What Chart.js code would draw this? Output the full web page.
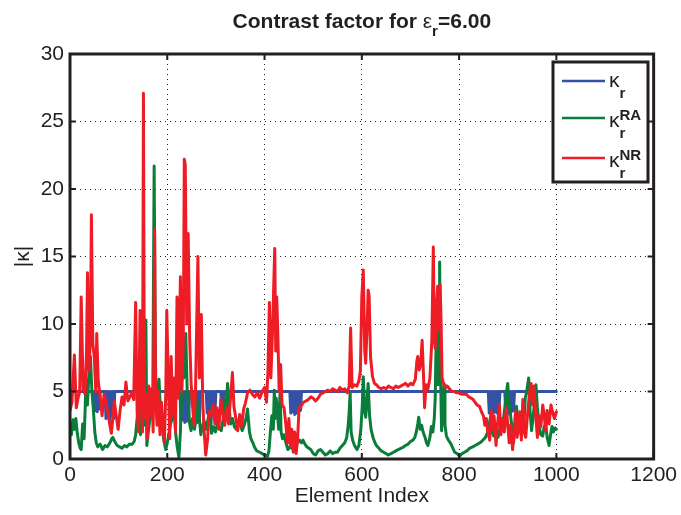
<!DOCTYPE html>
<html>
<head>
<meta charset="utf-8">
<script src="https://cdn.jsdelivr.net/npm/chart.js@4.4.1/dist/chart.umd.min.js"></script>
<style>
  html, body { margin: 0; padding: 0; background: #fff; }
</style>
</head>
<body>
<canvas id="chartDiv" width="681" height="515"></canvas>
<script>
const xTicks = [0, 200, 400, 600, 800, 1000, 1200]
const yTicks = [0, 5, 10, 15, 20, 25, 30]

// [element index, |kappa|]
const kappaR = [
  [0, 5], [50, 5], [52, 3.6], [54, 5], [56, 3.5], [58, 5], [60, 3.7], [62, 5],
  [72, 5], [74, 3.0], [76, 5], [78, 3.1], [80, 5], [82, 2.9], [84, 5], [86, 3.2], [88, 5], [90, 3.0], [92, 5],
  [226, 5], [228, 2.8], [230, 5], [232, 2.9], [234, 5], [236, 2.7], [238, 5], [240, 2.8], [242, 5], [244, 3.0], [246, 5],
  [256, 5], [258, 2.8], [260, 5], [262, 2.7], [264, 5], [266, 2.9], [268, 5],
  [280, 5], [282, 3.4], [284, 5], [286, 3.0], [288, 5], [290, 2.6], [292, 5], [294, 3.2], [296, 5], [298, 3.5], [300, 5],
  [310, 5], [312, 3.8], [314, 5], [316, 3.9], [318, 5],
  [452, 5], [454, 3.4], [456, 5], [458, 3.5], [460, 5], [462, 3.3], [464, 5], [466, 3.4], [468, 5], [470, 3.5], [472, 5], [474, 3.6], [476, 5],
  [860, 5], [862, 3.4], [864, 5], [866, 3.3], [868, 5], [870, 3.4], [872, 5], [874, 3.5], [876, 5], [878, 3.4], [880, 5], [882, 3.6], [884, 5],
  [894, 5], [896, 3.3], [898, 5], [900, 3.4], [902, 5], [904, 3.3], [906, 5], [908, 3.5], [910, 5], [912, 3.6], [914, 5],
  [1000, 5]
]

const kappaRA = [
  [0, 2.6], [3, 1.8], [6, 2.9], [9, 2.2], [12, 3.0], [15, 1.9], [18, 1.2], [21, 0.8], [23, 0.7], [26, 2.6],
  [29, 1.5], [31, 3.5], [33, 5.9], [36, 4.0], [39, 6.5], [42, 7.6], [45, 5.0], [48, 3.7], [51, 2.0], [54, 1.2],
  [57, 0.9], [62, 1.1], [67, 0.7], [72, 1.0], [77, 0.9], [82, 1.2], [86, 1.5], [88, 1.6], [92, 1.3], [97, 1.0],
  [102, 0.9], [107, 0.8], [112, 1.0], [117, 0.9], [122, 1.1], [128, 1.1], [132, 1.3], [135, 1.8], [138, 3.0], [142, 4.9],
  [145, 1.8], [148, 3.5], [150, 4.9], [153, 2.5], [156, 10.3], [158, 1.0], [161, 2.0], [164, 2.9], [167, 4.0], [170, 3.0],
  [173, 21.7], [175, 10.0], [177, 3.7], [180, 4.2], [183, 5.9], [186, 3.5], [189, 2.6], [192, 1.6], [195, 1.0], [197, 0.7],
  [200, 1.2], [203, 1.8], [206, 2.5], [210, 3.0], [214, 3.7], [217, 2.0], [220, 1.0], [224, 0.1], [227, 2.0], [229, 4.5],
  [231, 8.6], [234, 6.0], [236, 7.5], [238, 9.3], [241, 5.0], [244, 3.5], [246, 2.6], [249, 2.1], [252, 3.0], [256, 2.2],
  [259, 2.9], [263, 4.4], [266, 3.0], [269, 1.8], [272, 2.4], [276, 2.8], [280, 2.2], [284, 3.0], [287, 3.6], [291, 1.9],
  [295, 2.4], [299, 2.0], [303, 2.6], [307, 2.3], [311, 2.1], [315, 3.0], [318, 4.4], [321, 3.5], [324, 5.6], [327, 4.0],
  [330, 2.6], [334, 3.0], [338, 2.4], [342, 2.2], [346, 2.8], [350, 2.6], [354, 2.1], [358, 2.5], [362, 3.0], [365, 3.7],
  [369, 2.0], [372, 1.5], [376, 1.2], [379, 0.9], [384, 0.6], [390, 0.5], [395, 0.4], [400, 0.3], [406, 0.2], [409, 0.6],
  [412, 2.0], [415, 3.2], [418, 2.2], [420, 5.1], [422, 3.0], [424, 4.5], [426, 3.7], [429, 2.2], [432, 5.0], [434, 2.0],
  [437, 1.5], [440, 1.8], [444, 1.2], [448, 0.7], [452, 0.9], [456, 0.8], [460, 1.0], [464, 1.3], [468, 1.2], [472, 1.4],
  [476, 1.2], [479, 1.4], [483, 1.1], [487, 0.9], [491, 0.8], [495, 0.7], [500, 0.4], [505, 0.3], [510, 0.6], [515, 0.7],
  [520, 0.5], [525, 0.3], [530, 0.4], [535, 0.6], [540, 0.4], [545, 0.5], [550, 0.5], [555, 0.8], [560, 1.0], [565, 1.2],
  [569, 1.6], [572, 2.5], [574, 3.5], [576, 4.9], [578, 2.0], [581, 1.4], [585, 1.0], [590, 0.7], [594, 1.0], [598, 2.2],
  [601, 4.0], [603, 6.1], [606, 3.5], [608, 3.1], [611, 4.5], [613, 5.6], [616, 3.2], [619, 2.2], [623, 1.6], [627, 1.2],
  [630, 1.0], [635, 0.8], [640, 0.6], [645, 0.5], [650, 0.4], [654, 0.3], [660, 0.4], [665, 0.5], [670, 0.6], [675, 0.7],
  [681, 0.8], [686, 0.9], [690, 1.0], [695, 1.1], [700, 1.3], [705, 1.4], [709, 1.6], [712, 2.0], [715, 2.6], [717, 3.1],
  [720, 2.2], [723, 2.5], [726, 2.0], [730, 1.6], [733, 1.2], [736, 1.0], [740, 1.6], [743, 2.4], [746, 2.0], [749, 3.0],
  [751, 4.6], [753, 9.6], [755, 6.0], [757, 5.5], [759, 12.0], [760, 14.6], [762, 6.0], [764, 2.1], [767, 4.0], [769, 5.5],
  [771, 2.5], [774, 1.7], [778, 1.4], [782, 1.2], [786, 0.9], [791, 0.5], [796, 0.4], [801, 0.2], [806, 0.4], [811, 0.5],
  [816, 0.6], [822, 0.8], [828, 0.9], [833, 1.0], [838, 1.1], [843, 1.2], [849, 1.4], [854, 1.6], [859, 2.0], [862, 2.6],
  [865, 3.2], [868, 2.0], [871, 1.7], [874, 2.4], [877, 2.1], [880, 1.6], [884, 2.3], [887, 2.6], [890, 2.6], [893, 3.5],
  [896, 4.4], [898, 5.1], [900, 5.6], [903, 4.0], [906, 3.2], [909, 2.2], [912, 1.2], [915, 2.6], [918, 3.9], [921, 2.8],
  [924, 2.1], [927, 2.9], [930, 3.2], [933, 2.4], [936, 4.5], [939, 5.0], [943, 6.0], [946, 3.5], [949, 2.1], [952, 3.0],
  [955, 4.2], [958, 5.5], [961, 3.8], [964, 2.6], [968, 1.8], [972, 1.7], [975, 2.4], [978, 2.6], [981, 1.6], [985, 1.0],
  [988, 1.8], [991, 2.4], [994, 2.0], [997, 2.3], [1000, 2.2]
]

const kappaNR = [
  [0, 3.6], [4, 4.2], [9, 7.7], [13, 3.8], [17, 4.6], [20, 5.0], [23, 12.0], [27, 5.2], [31, 4.8], [34, 8.0],
  [36, 13.8], [39, 6.5], [42, 9.0], [44, 18.1], [47, 8.5], [50, 7.5], [53, 5.0], [55, 9.3], [58, 5.8], [62, 4.6],
  [66, 3.2], [70, 4.8], [74, 4.2], [78, 3.4], [82, 2.5], [85, 1.9], [88, 3.0], [91, 4.3], [95, 3.2], [99, 2.2],
  [103, 3.6], [107, 4.6], [111, 4.0], [115, 5.7], [119, 4.3], [123, 4.6], [127, 4.9], [131, 4.4], [135, 11.6], [138, 3.5],
  [141, 2.0], [144, 11.0], [147, 5.0], [149, 2.0], [151, 27.1], [153, 3.0], [156, 4.8], [159, 1.5], [162, 5.4], [165, 3.2],
  [168, 5.2], [171, 2.0], [174, 17.0], [176, 4.5], [179, 2.5], [182, 5.0], [185, 1.8], [188, 4.2], [191, 2.5], [194, 1.2],
  [197, 5.0], [199, 11.0], [202, 6.0], [205, 1.5], [208, 7.6], [211, 3.2], [214, 6.0], [217, 2.0], [220, 12.0], [223, 4.5],
  [227, 13.5], [230, 5.0], [233, 9.0], [235, 22.2], [237, 21.8], [240, 10.0], [243, 16.7], [246, 9.0], [249, 5.6], [252, 3.9],
  [255, 2.5], [258, 5.0], [263, 15.0], [266, 6.0], [270, 10.7], [273, 4.1], [276, 2.0], [279, 0.3], [283, 1.5], [286, 3.5],
  [290, 3.2], [294, 4.0], [298, 2.6], [302, 3.8], [306, 2.2], [310, 4.4], [314, 3.4], [318, 2.5], [322, 3.8], [326, 2.6],
  [330, 4.5], [334, 6.4], [337, 3.9], [341, 3.0], [345, 2.1], [349, 3.3], [353, 2.4], [357, 3.7], [361, 4.2], [365, 4.9],
  [370, 5.1], [375, 4.8], [380, 4.6], [385, 4.9], [390, 4.5], [395, 5.0], [400, 5.3], [404, 4.2], [407, 6.5], [410, 11.6],
  [413, 6.0], [416, 9.0], [419, 13.0], [421, 15.6], [423, 8.0], [425, 12.0], [427, 9.7], [430, 5.0], [433, 7.0], [436, 4.0],
  [440, 3.8], [444, 2.5], [447, 1.2], [450, 3.0], [453, 1.0], [456, 2.2], [459, 0.5], [462, 2.0], [465, 0.4], [468, 1.5],
  [471, 3.8], [475, 3.9], [480, 4.2], [485, 4.3], [490, 4.4], [495, 4.6], [500, 4.5], [505, 4.3], [510, 4.5], [515, 4.8],
  [520, 4.9], [525, 5.0], [530, 5.1], [535, 5.0], [540, 5.2], [545, 5.1], [550, 5.0], [555, 5.3], [560, 5.1], [565, 5.2],
  [570, 4.9], [574, 5.4], [577, 9.7], [580, 5.3], [585, 5.5], [590, 5.4], [594, 5.8], [597, 6.5], [600, 12.0], [603, 14.0],
  [606, 8.0], [608, 7.1], [611, 10.0], [613, 12.5], [615, 12.1], [618, 7.5], [622, 6.1], [626, 5.6], [630, 5.5], [635, 5.3],
  [640, 5.2], [645, 5.3], [650, 5.2], [655, 5.4], [660, 5.3], [665, 5.2], [670, 5.4], [675, 5.3], [680, 5.4], [685, 5.5],
  [690, 5.6], [695, 5.4], [700, 5.6], [705, 5.5], [710, 5.9], [713, 7.2], [715, 7.6], [718, 6.6], [721, 7.0], [724, 8.8],
  [727, 6.0], [729, 3.8], [732, 5.5], [736, 5.2], [740, 6.0], [744, 8.8], [747, 15.7], [749, 9.0], [751, 8.2], [753, 11.0],
  [756, 12.8], [758, 9.5], [761, 12.9], [763, 10.1], [765, 6.0], [768, 5.6], [772, 5.3], [776, 5.4], [780, 5.2], [785, 5.0],
  [790, 5.0], [795, 4.9], [800, 4.9], [805, 4.8], [810, 4.8], [815, 4.8], [820, 4.6], [825, 4.5], [829, 4.4], [833, 4.2],
  [837, 4.0], [842, 3.9], [846, 3.5], [850, 3.2], [853, 2.5], [856, 3.0], [859, 2.0], [863, 1.4], [866, 3.6], [869, 2.2],
  [872, 3.2], [876, 1.0], [879, 2.6], [883, 4.0], [886, 1.8], [889, 3.0], [893, 2.0], [897, 3.8], [900, 2.6], [903, 1.2],
  [906, 2.5], [910, 0.7], [913, 2.0], [916, 3.5], [919, 1.6], [922, 2.1], [925, 3.5], [928, 1.4], [931, 4.4], [934, 2.0],
  [937, 1.6], [940, 3.0], [944, 4.6], [948, 5.6], [951, 4.0], [954, 5.4], [958, 3.0], [961, 1.6], [964, 3.2], [968, 2.4],
  [972, 4.0], [975, 3.2], [978, 2.1], [981, 3.6], [985, 2.6], [989, 4.0], [992, 3.5], [996, 3.0], [1000, 3.5]
]

const colors = ['#3451a3', '#0b7d3b', '#ee1d25']
const FONT = '"Liberation Sans", Arial, Helvetica, sans-serif'
const INK = '#231f20'

const toPoints = pairs => pairs.map(([x, y]) => ({ x, y }))

// draws a run of text pieces (with sub/superscripts) starting at x
function richText(ctx, parts, x, y) {
  parts.forEach(p => {
    ctx.font = p.font
    ctx.fillText(p.text, x, y + (p.dy || 0))
    if (!p.overlap) x += ctx.measureText(p.text).width
  })
  return x
}

function richWidth(ctx, parts) {
  let w = 0
  parts.forEach(p => {
    ctx.font = p.font
    if (!p.overlap) w += ctx.measureText(p.text).width
  })
  return w
}

const matlabAxes = {
  id: 'matlabAxes',
  afterDatasetsDraw(chart) {
    const { ctx, chartArea: a, scales } = chart
    ctx.save()

    // inward ticks on all four sides
    ctx.strokeStyle = INK
    ctx.lineWidth = 2
    ctx.beginPath()
    xTicks.forEach(v => {
      const x = scales.x.getPixelForValue(v)
      ctx.moveTo(x, a.bottom); ctx.lineTo(x, a.bottom - 6)
      ctx.moveTo(x, a.top); ctx.lineTo(x, a.top + 6)
    })
    yTicks.forEach(v => {
      const y = scales.y.getPixelForValue(v)
      ctx.moveTo(a.left, y); ctx.lineTo(a.left + 6, y)
      ctx.moveTo(a.right, y); ctx.lineTo(a.right - 6, y)
    })
    ctx.stroke()

    // box round the axes
    ctx.lineWidth = 3
    ctx.strokeRect(a.left, a.top, a.right - a.left, a.bottom - a.top)

    // legend
    const lx = 553, ly = 62, lw = 95, lh = 120
    ctx.fillStyle = '#fff'
    ctx.fillRect(lx, ly, lw, lh)
    ctx.lineWidth = 3
    ctx.strokeRect(lx, ly, lw, lh)
    const rows = [81, 118, 158]
    const sups = ['', 'RA', 'NR']
    rows.forEach((ry, i) => {
      ctx.strokeStyle = colors[i]
      ctx.lineWidth = 2.5
      ctx.beginPath()
      ctx.moveTo(562, ry)
      ctx.lineTo(605, ry)
      ctx.stroke()
      ctx.fillStyle = INK
      ctx.textAlign = 'left'
      ctx.textBaseline = 'alphabetic'
      const parts = [
        { text: 'κ', font: '21px ' + FONT },
        { text: 'r', font: 'bold 15px ' + FONT, dy: 11, overlap: true }
      ]
      if (sups[i]) parts.push({ text: sups[i], font: 'bold 15px ' + FONT, dy: -7 })
      richText(ctx, parts, 609, ry + (i === 0 ? 6 : 9))
    })

    ctx.restore()
  },
  afterDraw(chart) {
    const { ctx, chartArea: a } = chart
    const cx = (a.left + a.right) / 2
    ctx.save()
    ctx.fillStyle = INK
    ctx.textBaseline = 'alphabetic'
    ctx.textAlign = 'left'

    // title with subscript
    const title = [
      { text: 'Contrast factor for ', font: 'bold 21px ' + FONT },
      { text: 'ε', font: '21px ' + FONT },
      { text: 'r', font: 'bold 15px ' + FONT, dy: 8 },
      { text: '=6.00', font: 'bold 21px ' + FONT }
    ]
    richText(ctx, title, cx - richWidth(ctx, title) / 2, 28)

    // axis labels
    ctx.font = '21px ' + FONT
    ctx.textAlign = 'center'
    ctx.textBaseline = 'middle'
    ctx.fillText('Element Index', cx, 496)
    ctx.translate(23, (a.top + a.bottom) / 2)
    ctx.rotate(-Math.PI / 2)
    ctx.fillText('|κ|', 0, 0)
    ctx.restore()
  }
}

new Chart(document.getElementById('chartDiv'), {
  type: 'line',
  data: {
    datasets: [
      { label: 'κr', data: toPoints(kappaR), borderColor: colors[0], order: 3 },
      { label: 'κrRA', data: toPoints(kappaRA), borderColor: colors[1], order: 2 },
      { label: 'κrNR', data: toPoints(kappaNR), borderColor: colors[2], order: 1 }
    ]
  },
  options: {
    responsive: false,
    animation: false,
    devicePixelRatio: 1,
    layout: { padding: { top: 54, right: 25, left: 0, bottom: 0 } },
    elements: {
      point: { radius: 0 },
      line: { borderWidth: 3, tension: 0, borderJoinStyle: 'round', borderCapStyle: 'round' }
    },
    scales: {
      x: {
        type: 'linear',
        min: 0,
        max: 1200,
        afterBuildTicks: s => { s.ticks = xTicks.map(value => ({ value })) },
        afterFit: s => { s.height = 56 },
        grid: { color: INK, lineWidth: 1, drawTicks: false },
        border: { display: false, dash: [1, 4] },
        ticks: { color: INK, padding: 4, maxRotation: 0, callback: v => String(v), font: { size: 21, family: FONT } }
      },
      y: {
        min: 0,
        max: 30,
        afterBuildTicks: s => { s.ticks = yTicks.map(value => ({ value })) },
        afterFit: s => { s.width = 70 },
        grid: { color: INK, lineWidth: 1, drawTicks: false },
        border: { display: false, dash: [1, 4] },
        ticks: { color: INK, padding: 6, callback: v => String(v), font: { size: 21, family: FONT } }
      }
    },
    plugins: {
      legend: { display: false },
      tooltip: { enabled: false },
      title: { display: false }
    }
  },
  plugins: [matlabAxes]
})
</script>
</body>
</html>
